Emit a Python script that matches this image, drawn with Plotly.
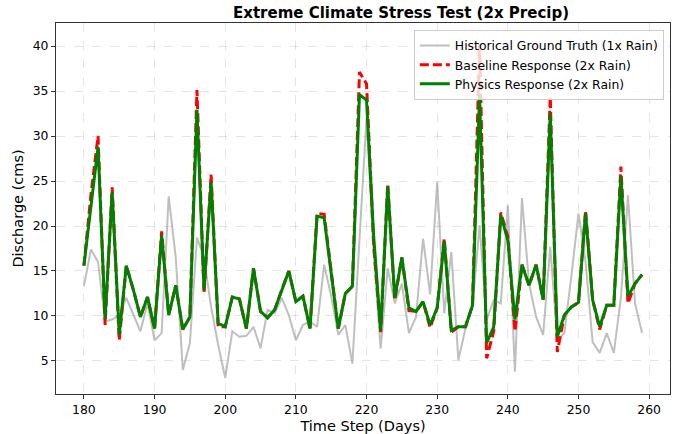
import plotly.graph_objects as go

days = list(range(180, 260))

historical = [13.3, 17.4, 16.0, 9.4, 9.6, 10.1, 12.0, 10.1, 8.3, 11.4,
              7.3, 8.1, 23.3, 16.5, 4.0, 7.0, 18.7, 16.5, 11.0, 6.8,
              3.1, 8.3, 7.7, 7.8, 8.8, 6.4, 10.7, 10.3, 12.0, 10.1,
              7.3, 9.0, 9.4, 8.8, 15.7, 12.2, 7.9, 9.0, 4.7, 18.5,
              32.0, 17.0, 6.4, 15.3, 11.4, 13.6, 8.1, 9.9, 18.6, 12.4,
              24.9, 10.3, 17.1, 5.1, 8.6, 11.0, 20.1, 9.6, 11.8, 11.4,
              22.3, 3.8, 23.1, 13.6, 9.9, 7.9, 17.7, 7.3, 8.1, 14.5,
              21.4, 16.0, 7.1, 5.9, 8.1, 5.9, 12.0, 23.4, 11.4, 8.1]

physics = [15.6, 22.2, 28.8, 9.7, 23.8, 7.9, 15.6, 12.9, 9.9, 12.1,
           8.6, 19.0, 10.1, 13.4, 8.5, 9.9, 32.9, 12.9, 24.9, 9.2,
           8.8, 12.1, 11.9, 8.6, 15.3, 10.5, 9.8, 10.7, 12.9, 15.0,
           11.6, 12.2, 8.6, 21.1, 20.9, 14.8, 8.6, 12.5, 13.3, 34.6,
           34.0, 19.0, 8.4, 24.4, 12.0, 16.5, 10.9, 10.5, 11.6, 9.0,
           10.9, 18.3, 8.4, 8.8, 8.8, 11.2, 34.5, 7.0, 8.8, 21.2,
           18.4, 9.6, 15.7, 13.4, 15.7, 11.8, 32.5, 7.7, 10.1, 11.0,
           11.5, 21.4, 11.8, 8.8, 11.2, 11.2, 25.5, 12.2, 13.6, 14.6]

baseline = [15.6, 23.5, 30.0, 9.0, 24.3, 7.3, 15.6, 12.9, 9.9, 12.1,
            8.6, 19.4, 10.1, 13.4, 8.5, 9.9, 35.1, 12.5, 25.7, 8.8,
            8.8, 12.1, 11.9, 8.6, 15.3, 10.5, 9.8, 10.7, 12.9, 15.0,
            11.6, 12.2, 8.6, 21.4, 21.3, 14.8, 8.6, 12.5, 13.3, 37.1,
            35.8, 18.0, 8.2, 24.7, 11.8, 16.5, 10.6, 10.5, 11.6, 8.7,
            10.9, 18.6, 8.2, 8.8, 8.8, 11.2, 40.3, 5.3, 8.3, 21.5,
            18.8, 8.3, 15.7, 13.4, 15.7, 11.8, 34.4, 6.0, 10.1, 11.0,
            11.5, 21.7, 11.8, 8.5, 11.2, 11.2, 26.6, 11.4, 13.6, 14.6]

x_ticks = [180, 190, 200, 210, 220, 230, 240, 250, 260]
y_ticks = [5, 10, 15, 20, 25, 30, 35, 40]

FONT = "DejaVu Sans"

fig = go.Figure()
fig.add_trace(go.Scatter(x=days, y=historical, mode="lines",
                         name="Historical Ground Truth (1x Rain)",
                         line=dict(color="rgba(128,128,128,0.5)", width=2)))
fig.add_trace(go.Scatter(x=days, y=baseline, mode="lines",
                         name="Baseline Response (2x Rain)",
                         line=dict(color="red", width=3, dash="9px,4px")))
fig.add_trace(go.Scatter(x=days, y=physics, mode="lines",
                         name="Physics Response (2x Rain)",
                         line=dict(color="green", width=3)))

axis_common = dict(
    showline=True, linecolor="#333333", linewidth=1, mirror=True,
    ticks="outside", ticklen=4, tickcolor="#333333",
    showgrid=True, gridcolor="rgba(0,0,0,0.10)", griddash="dash", gridwidth=1,
    zeroline=False, automargin=False,
    tickfont=dict(family=FONT, size=12.4, color="black"),
)

fig.update_layout(
    width=689, height=434,
    margin=dict(l=56, r=19, t=23, b=40),
    paper_bgcolor="white", plot_bgcolor="white",
    font=dict(family=FONT, size=12.4, color="black"),
    title=dict(text="<b>Extreme Climate Stress Test (2x Precip)</b>",
               x=401 / 689, xanchor="center", y=1 - 13 / 434, yanchor="middle",
               font=dict(family=FONT, size=15, color="black")),
    xaxis=dict(range=[176.05, 262.95], tickvals=x_ticks,
               title=dict(text="Time Step (Days)", standoff=4,
                          font=dict(family=FONT, size=14.5)),
               **axis_common),
    yaxis=dict(range=[1.33, 42.56], tickvals=y_ticks,
               title=dict(text="Discharge (cms)", standoff=5,
                          font=dict(family=FONT, size=14.5)),
               **axis_common),
    legend=dict(x=0.990, xanchor="right", y=0.981, yanchor="top",
                bgcolor="rgba(255,255,255,0.8)", bordercolor="#cccccc", borderwidth=1,
                font=dict(family=FONT, size=12.4), tracegroupgap=0,
                itemwidth=30),
    showlegend=True,
)

fig.write_html("out.html", config={"displayModeBar": False},
               post_script="document.body.style.margin='0';document.body.style.overflow='hidden';")
